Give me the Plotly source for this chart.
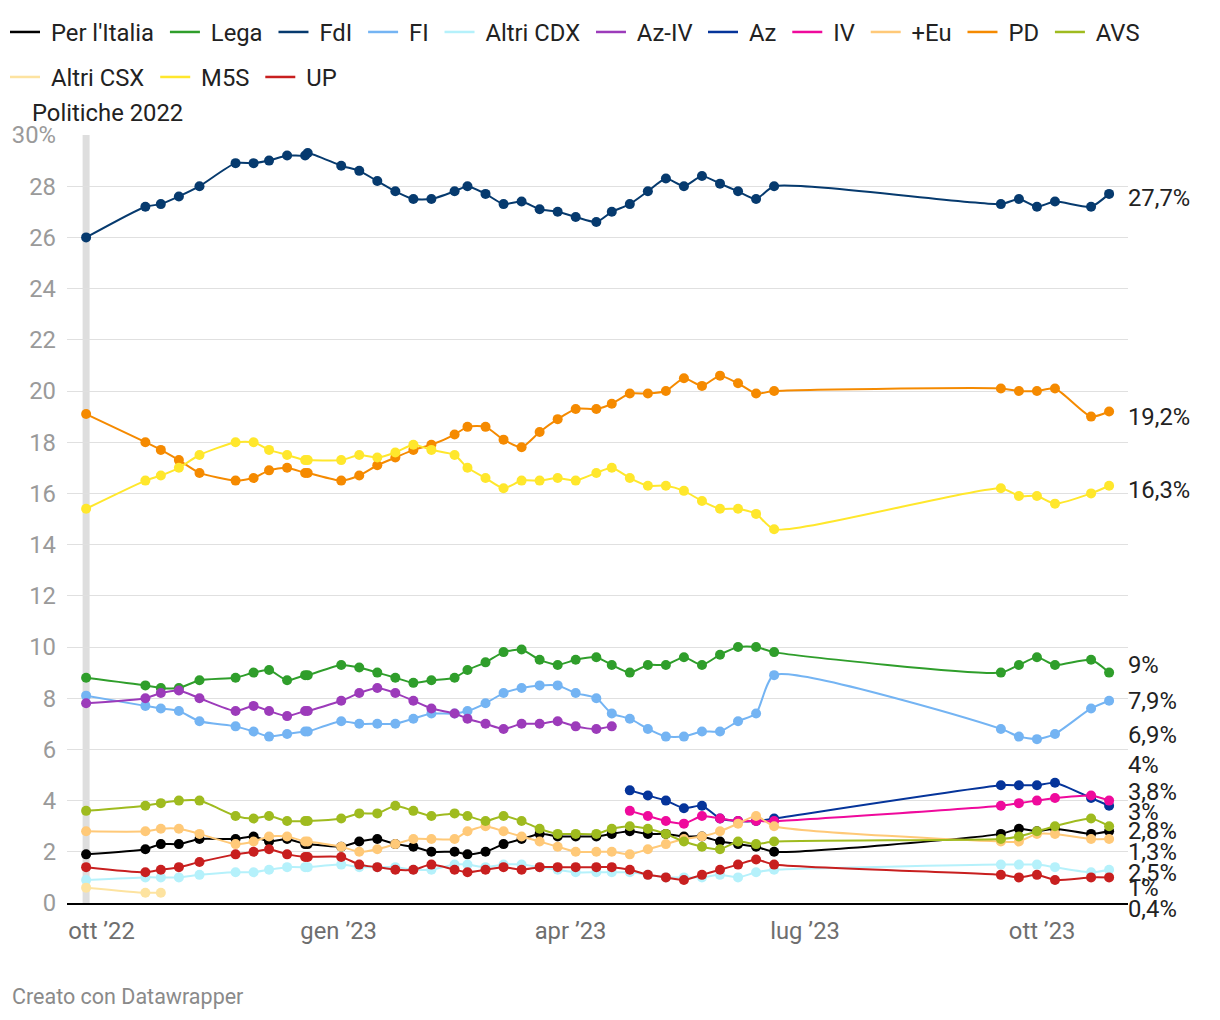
import plotly.graph_objects as go

# ---------------- DATA ----------------
dates = [
    "2022-09-25", "2022-10-18", "2022-10-24", "2022-10-31", "2022-11-08",
    "2022-11-22", "2022-11-29", "2022-12-05", "2022-12-12", "2022-12-19",
    "2022-12-20", "2023-01-02", "2023-01-09", "2023-01-16", "2023-01-23",
    "2023-01-30", "2023-02-06", "2023-02-15", "2023-02-20", "2023-02-27",
    "2023-03-06", "2023-03-13", "2023-03-20", "2023-03-27", "2023-04-03",
    "2023-04-11", "2023-04-17", "2023-04-24", "2023-05-01", "2023-05-08",
    "2023-05-15", "2023-05-22", "2023-05-29", "2023-06-05", "2023-06-12",
    "2023-06-19", "2023-09-15", "2023-09-22", "2023-09-29", "2023-10-06",
    "2023-10-20", "2023-10-27",
]
N = None

per_italia = [1.9, 2.1, 2.3, 2.3, 2.5, 2.5, 2.6, 2.4, 2.5, 2.3, 2.3,
              2.2, 2.4, 2.5, 2.3, 2.2, 2.0, 2.0,
              1.9, 2.0, 2.3, 2.5, 2.7, 2.6, 2.6, 2.6, 2.7,
              2.8, 2.7, 2.7, 2.6, 2.6, 2.4, 2.3, 2.2, 2.0,
              2.7, 2.9, 2.8, 2.9, 2.7, 2.8]
lega = [8.8, 8.5, 8.4, 8.4, 8.7, 8.8, 9.0, 9.1, 8.7, 8.9, 8.9,
        9.3, 9.2, 9.0, 8.8, 8.6, 8.7, 8.8,
        9.1, 9.4, 9.8, 9.9, 9.5, 9.3, 9.5, 9.6, 9.3,
        9.0, 9.3, 9.3, 9.6, 9.3, 9.7, 10.0, 10.0, 9.8,
        9.0, 9.3, 9.6, 9.3, 9.5, 9.0]
fdi = [26.0, 27.2, 27.3, 27.6, 28.0, 28.9, 28.9, 29.0, 29.2, 29.2, 29.3,
       28.8, 28.6, 28.2, 27.8, 27.5, 27.5, 27.8,
       28.0, 27.7, 27.3, 27.4, 27.1, 27.0, 26.8, 26.6, 27.0,
       27.3, 27.8, 28.3, 28.0, 28.4, 28.1, 27.8, 27.5, 28.0,
       27.3, 27.5, 27.2, 27.4, 27.2, 27.7]
fi = [8.1, 7.7, 7.6, 7.5, 7.1, 6.9, 6.7, 6.5, 6.6, 6.7, 6.7,
      7.1, 7.0, 7.0, 7.0, 7.2, 7.4, 7.4,
      7.5, 7.8, 8.2, 8.4, 8.5, 8.5, 8.2, 8.0, 7.4,
      7.2, 6.8, 6.5, 6.5, 6.7, 6.7, 7.1, 7.4, 8.9,
      6.8, 6.5, 6.4, 6.6, 7.6, 7.9]
altri_cdx = [0.9, 1.0, 1.0, 1.0, 1.1, 1.2, 1.2, 1.3, 1.4, 1.4, 1.4,
             1.5, 1.4, 1.4, 1.4, 1.3, 1.3, 1.5,
             1.5, 1.4, 1.5, 1.5, 1.4, 1.3, 1.2, 1.2, 1.2,
             1.2, 1.1, 1.0, 1.0, 1.0, 1.1, 1.0, 1.2, 1.3,
             1.5, 1.5, 1.5, 1.4, 1.2, 1.3]
az_iv = [7.8, 8.0, 8.2, 8.3, 8.0, 7.5, 7.7, 7.5, 7.3, 7.5, 7.5,
         7.9, 8.2, 8.4, 8.2, 7.9, 7.6, 7.4,
         7.2, 7.0, 6.8, 7.0, 7.0, 7.1, 6.9, 6.8, 6.9,
         N, N, N, N, N, N, N, N, N,
         N, N, N, N, N, N]
az = [N, N, N, N, N, N, N, N, N, N, N,
      N, N, N, N, N, N, N,
      N, N, N, N, N, N, N, N, N,
      4.4, 4.2, 4.0, 3.7, 3.8, 3.3, 3.2, 3.2, 3.3,
      4.6, 4.6, 4.6, 4.7, 4.1, 3.8]
iv = [N, N, N, N, N, N, N, N, N, N, N,
      N, N, N, N, N, N, N,
      N, N, N, N, N, N, N, N, N,
      3.6, 3.4, 3.2, 3.1, 3.4, 3.3, 3.2, 3.2, 3.2,
      3.8, 3.9, 4.0, 4.1, 4.2, 4.0]
piu_europa = [2.8, 2.8, 2.9, 2.9, 2.7, 2.3, 2.4, 2.6, 2.6, 2.4, 2.4,
              2.2, 2.0, 2.1, 2.3, 2.5, 2.5, 2.5,
              2.8, 3.0, 2.8, 2.6, 2.4, 2.2, 2.0, 2.0, 2.0,
              1.9, 2.1, 2.3, 2.5, 2.6, 2.8, 3.1, 3.4, 3.0,
              2.4, 2.4, 2.7, 2.7, 2.5, 2.5]
pd_ = [19.1, 18.0, 17.7, 17.3, 16.8, 16.5, 16.6, 16.9, 17.0, 16.8, 16.8,
       16.5, 16.7, 17.1, 17.4, 17.7, 17.9, 18.3,
       18.6, 18.6, 18.1, 17.8, 18.4, 18.9, 19.3, 19.3, 19.5,
       19.9, 19.9, 20.0, 20.5, 20.2, 20.6, 20.3, 19.9, 20.0,
       20.1, 20.0, 20.0, 20.1, 19.0, 19.2]
avs = [3.6, 3.8, 3.9, 4.0, 4.0, 3.4, 3.3, 3.4, 3.2, 3.2, 3.2,
       3.3, 3.5, 3.5, 3.8, 3.6, 3.4, 3.5,
       3.4, 3.2, 3.4, 3.2, 2.9, 2.7, 2.7, 2.7, 2.9,
       3.0, 2.9, 2.7, 2.4, 2.2, 2.1, 2.4, 2.3, 2.4,
       2.5, 2.6, 2.8, 3.0, 3.3, 3.0]
altri_csx = [0.6, 0.4, 0.4, N, N, N, N, N, N, N, N,
             N, N, N, N, N, N, N,
             N, N, N, N, N, N, N, N, N,
             N, N, N, N, N, N, N, N, N,
             N, N, N, N, N, N]
m5s = [15.4, 16.5, 16.7, 17.0, 17.5, 18.0, 18.0, 17.7, 17.5, 17.3, 17.3,
       17.3, 17.5, 17.4, 17.6, 17.9, 17.7, 17.5,
       17.0, 16.6, 16.2, 16.5, 16.5, 16.6, 16.5, 16.8, 17.0,
       16.6, 16.3, 16.3, 16.1, 15.7, 15.4, 15.4, 15.2, 14.6,
       16.2, 15.9, 15.9, 15.6, 16.0, 16.3]
up = [1.4, 1.2, 1.3, 1.4, 1.6, 1.9, 2.0, 2.1, 1.9, 1.8, 1.8,
      1.8, 1.5, 1.4, 1.3, 1.3, 1.5, 1.3,
      1.2, 1.3, 1.4, 1.3, 1.4, 1.4, 1.4, 1.4, 1.4,
      1.3, 1.1, 1.0, 0.9, 1.1, 1.3, 1.5, 1.7, 1.5,
      1.1, 1.0, 1.1, 0.9, 1.0, 1.0]

party_names = ["Per l'Italia", "Lega", "FdI", "FI", "Altri CDX", "Az-IV", "Az",
               "IV", "+Eu", "PD", "AVS", "Altri CSX", "M5S", "UP"]
party_values = [per_italia, lega, fdi, fi, altri_cdx, az_iv, az,
                iv, piu_europa, pd_, avs, altri_csx, m5s, up]

x_tick_vals = ["2022-10-01", "2023-01-01", "2023-04-01", "2023-07-01", "2023-10-01"]
x_tick_text = ["ott ’22", "gen ’23", "apr ’23", "lug ’23", "ott ’23"]
y_tick_vals = list(range(0, 31, 2))
y_tick_text = [str(v) for v in y_tick_vals[:-1]] + ["30%"]
election_date = "2022-09-25"
election_label = "Politiche 2022"

# ---------------- STYLE ----------------
colors = {
    "Per l'Italia": "#000000", "Lega": "#2f9e2b", "FdI": "#063a6e",
    "FI": "#74b4f3", "Altri CDX": "#b5f1fb", "Az-IV": "#9c3bba",
    "Az": "#05349a", "IV": "#ef0a9c", "+Eu": "#ffc978", "PD": "#f58a00",
    "AVS": "#9fbb1f", "Altri CSX": "#fde3a0", "M5S": "#ffe72c", "UP": "#c81f1f",
}
# legend blocks: row 1 split in two blocks, row 2
legend_of = {n: "legend" for n in party_names[:6]}
legend_of.update({n: "legend3" for n in party_names[6:11]})
legend_of.update({n: "legend2" for n in party_names[11:]})
# vertical pixel nudges of end labels (collision avoidance)
label_shift = {
    "FdI": -4, "PD": -6, "M5S": -4, "Lega": 8, "FI": 0, "Az-IV": -9,
    "IV": 36, "Az": 14, "AVS": 14, "Per l'Italia": 0, "Altri CDX": 18,
    "+Eu": -34, "UP": -11, "Altri CSX": -16,
}
FONT = "Roboto, 'Open Sans', sans-serif"
FS = 23.8
PAD = "\u00a0"

fig = go.Figure()

fig.add_shape(type="line", x0=election_date, x1=election_date, yref="paper",
              y0=0, y1=1, line=dict(color="#dedede", width=7), layer="below")

for name, vals in zip(party_names, party_values):
    fig.add_trace(go.Scatter(
        x=dates, y=vals, mode="lines+markers", name=name,
        line=dict(color=colors[name], width=2, shape="spline", smoothing=0.6),
        marker=dict(color=colors[name], size=10),
        connectgaps=True, showlegend=False, hoverinfo="x+y+name",
    ))

for name in party_names:
    fig.add_trace(go.Scatter(
        x=[None], y=[None], mode="lines", name=PAD + name + PAD,
        line=dict(color=colors[name], width=2.5),
        legend=legend_of[name], showlegend=True,
    ))

# end labels
for name, vals in zip(party_names, party_values):
    last = [v for v in vals if v is not None][-1]
    txt = (f"{last:.0f}%" if float(last).is_integer() else f"{last:.1f}%").replace(".", ",")
    fig.add_annotation(x=1, xref="paper", y=last, yref="y", text=txt,
                       xanchor="left", yanchor="middle", showarrow=False,
                       xshift=-2, yshift=label_shift[name],
                       font=dict(family=FONT, size=FS, color="#222222"))

fig.add_annotation(x=election_date, xref="x", y=1, yref="paper",
                   text=election_label, showarrow=False, xanchor="center",
                   yanchor="middle", xshift=21, yshift=22,
                   font=dict(family=FONT, size=FS, color="#222222"))

fig.add_annotation(x=(10 - 67) / 1061, xref="paper", y=0, yref="paper",
                   text="Creato con Datawrapper", showarrow=False,
                   xanchor="left", yanchor="middle", yshift=-93,
                   font=dict(family=FONT, size=21.5, color="#8a8a8a"))

legend_common = dict(orientation="h", xref="container", yref="container",
                     xanchor="left", yanchor="middle",
                     font=dict(family=FONT, size=FS, color="#222222"),
                     bgcolor="rgba(0,0,0,0)", itemclick=False, itemdoubleclick=False)

fig.update_layout(
    width=1220, height=1020,
    margin=dict(l=67, r=92, t=135, b=117),
    paper_bgcolor="white", plot_bgcolor="white",
    font=dict(family=FONT, size=FS, color="#222222"),
    legend=dict(x=5 / 1220, y=1 - 32 / 1020, **legend_common),
    legend3=dict(x=703 / 1220, y=1 - 32 / 1020, **legend_common),
    legend2=dict(x=5 / 1220, y=1 - 77 / 1020, **legend_common),
    xaxis=dict(
        type="date", range=["2022-09-17 14:00", "2023-11-03 08:00"],
        tickvals=x_tick_vals, ticktext=x_tick_text, showgrid=False,
        showline=True, linecolor="#000000", linewidth=2, ticks="",
        tickfont=dict(family=FONT, size=FS, color="#6e6e6e"),
        ticklabelstandoff=5, zeroline=False, fixedrange=True,
    ),
    yaxis=dict(
        range=[0, 30], tickvals=y_tick_vals, ticktext=y_tick_text,
        showgrid=True, gridcolor="#e0e0e0", gridwidth=1, zeroline=False,
        showline=False, ticks="", ticklabelstandoff=10,
        tickfont=dict(family=FONT, size=FS, color="#9a9a9a"), fixedrange=True,
    ),
    hovermode="closest",
)

fig.write_html("out.html", post_script="document.body.style.margin='0';",
               config={"displayModeBar": False})
